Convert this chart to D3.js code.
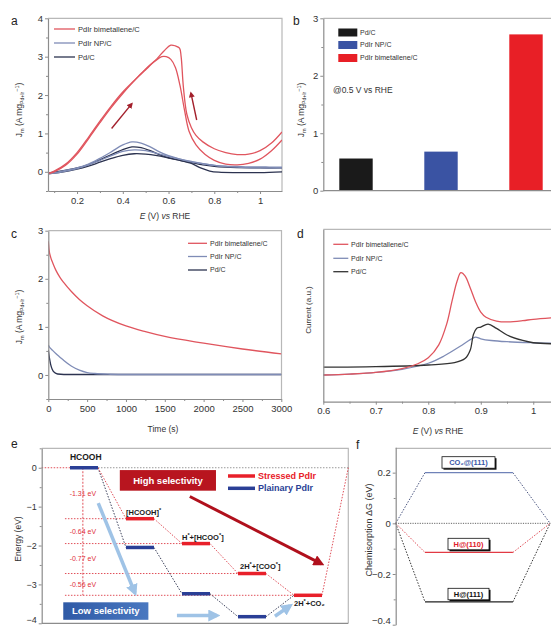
<!DOCTYPE html>
<html><head><meta charset="utf-8">
<script src="https://cdn.jsdelivr.net/npm/d3@7/dist/d3.min.js"></script>
<style>
body{margin:0;background:#fff;}
svg text{font-family:"Liberation Sans",Arial,Helvetica,sans-serif;}
</style></head><body>
<script>
// ================= DATA =================
const seriesNames = ["PdIr bimetallene/C","PdIr NP/C","Pd/C"];

// Panel a: cyclic voltammograms [E (V), Jm]
const aRedFwd = [[0.073,-0.05],[0.1,0.0],[0.15,0.17],[0.2,0.46],[0.25,0.86],[0.3,1.28],[0.35,1.68],[0.4,2.04],[0.45,2.37],[0.5,2.66],[0.54,2.88],[0.57,3.0],[0.59,3.0],[0.61,2.93],[0.63,2.72],[0.65,2.25],[0.67,1.6],[0.69,1.05],[0.72,0.7],[0.76,0.45],[0.8,0.3],[0.85,0.2],[0.9,0.18],[0.95,0.22],[1.0,0.33],[1.05,0.55],[1.096,0.83]];
const aRedBwd = [[1.096,1.04],[1.05,0.75],[1.0,0.55],[0.95,0.46],[0.9,0.45],[0.85,0.5],[0.8,0.6],[0.75,0.78],[0.72,0.95],[0.7,1.15],[0.68,1.5],[0.665,2.2],[0.655,3.0],[0.648,3.22],[0.63,3.28],[0.61,3.3],[0.58,3.15],[0.55,2.95],[0.5,2.68],[0.45,2.38],[0.4,2.08],[0.35,1.72],[0.3,1.32],[0.25,0.9],[0.2,0.5],[0.15,0.2],[0.1,0.02],[0.073,-0.05]];
const aNpFwd = [[0.073,-0.04],[0.12,0.0],[0.2,0.1],[0.25,0.2],[0.3,0.35],[0.35,0.52],[0.4,0.7],[0.44,0.78],[0.48,0.75],[0.52,0.65],[0.56,0.52],[0.6,0.42],[0.65,0.33],[0.7,0.26],[0.75,0.21],[0.8,0.17],[0.85,0.15],[0.9,0.14],[0.95,0.13],[1.0,0.13],[1.05,0.12],[1.096,0.12]];
const aNpBwd = [[1.096,0.1],[1.0,0.1],[0.9,0.12],[0.8,0.17],[0.7,0.27],[0.65,0.33],[0.6,0.4],[0.55,0.48],[0.5,0.55],[0.45,0.57],[0.4,0.53],[0.35,0.42],[0.3,0.3],[0.25,0.18],[0.2,0.08],[0.12,-0.02],[0.073,-0.05]];
const aPdFwd = [[0.073,-0.03],[0.12,0.01],[0.2,0.1],[0.25,0.19],[0.3,0.31],[0.35,0.45],[0.4,0.58],[0.44,0.65],[0.48,0.63],[0.52,0.55],[0.56,0.45],[0.6,0.37],[0.65,0.3],[0.7,0.24],[0.75,0.18],[0.8,0.14],[0.85,0.12],[0.9,0.11],[1.0,0.1],[1.096,0.1]];
const aPdBwd = [[1.096,0.0],[1.0,-0.02],[0.9,-0.02],[0.82,-0.01],[0.78,0.02],[0.74,0.1],[0.7,0.22],[0.65,0.3],[0.6,0.36],[0.55,0.42],[0.5,0.46],[0.45,0.47],[0.4,0.43],[0.35,0.35],[0.3,0.25],[0.25,0.15],[0.2,0.07],[0.12,-0.02],[0.073,-0.05]];
const aXTicks = [0.2,0.4,0.6,0.8,1];
const aXMinor = [0.1,0.3,0.5,0.7,0.9];
const aYTicks = [0,1,2,3,4];
const aYMinor = [-0.5,0.5,1.5,2.5,3.5];
const aArrows = [[[0.351,1.13],[0.439,1.77]],[[0.723,1.35],[0.698,2.05]]];

// Panel b: mass activity @0.5 V
const bCategories = ["Pd/C","PdIr NP/C","PdIr bimetallene/C"];
const bValues = [0.56,0.68,2.72];
const bYTicks = [0,1,2,3];
const bYMinor = [0.5,1.5,2.5];

// Panel c: chronoamperometry [t (s), Jm]
const cRed = [[0,2.78],[10,2.6],[30,2.45],[60,2.32],[100,2.17],[150,2.03],[200,1.92],[300,1.73],[400,1.57],[500,1.44],[700,1.23],[1000,1.02],[1250,0.9],[1500,0.8],[2000,0.66],[2500,0.54],[3000,0.44]];
const cNp  = [[0,0.62],[20,0.57],[50,0.52],[100,0.44],[150,0.37],[200,0.3],[300,0.18],[400,0.1],[500,0.05],[600,0.03],[800,0.015],[1000,0.01],[3000,0.01]];
const cPd  = [[0,0.52],[15,0.35],[30,0.22],[50,0.12],[80,0.05],[120,0.02],[200,0.01],[3000,0.01]];
const cXTicks = [0,500,1000,1500,2000,2500,3000];
const cXMinor = [250,750,1250,1750,2250,2750];
const cYTicks = [0,1,2,3];
const cYMinor = [-0.5,0.5,1.5,2.5];

// Panel d: CO stripping [E (V), current a.u.]
const dRed = [[0.6,15.5],[0.65,16],[0.7,17],[0.75,19.2],[0.78,22],[0.8,25.5],[0.82,33],[0.835,45],[0.845,58],[0.855,70],[0.862,74.8],[0.87,73],[0.88,66],[0.89,58],[0.9,52],[0.91,49],[0.93,46.8],[0.95,46.3],[0.98,47],[1.0,47.8],[1.05,49]];
const dNp  = [[0.6,15.5],[0.65,16],[0.7,17],[0.75,18.8],[0.8,22.3],[0.83,26.5],[0.86,32],[0.88,36],[0.89,37.5],[0.9,36.5],[0.92,35.5],[0.95,34.8],[1.0,34.2],[1.05,33.8]];
const dPd  = [[0.6,20],[0.7,20.3],[0.8,21.3],[0.85,22.6],[0.87,25],[0.88,30],[0.886,39],[0.892,42.5],[0.9,43.3],[0.914,45],[0.93,42.5],[0.95,38.7],[0.98,35.5],[1.0,34.2],[1.05,33.5]];
const dXTicks = [0.6,0.7,0.8,0.9,1];
const dXMinor = [0.65,0.75,0.85,0.95];

// Panel e: energy diagram
const eSteps = ["HCOOH","[HCOOH]*","H*+[HCOO*]","2H*+[COO*]","2H*+CO₂"];
const eStressed = [0,-1.31,-1.95,-2.72,-3.28];
const ePlainary = [0,-2.05,-3.24,-3.83,-3.28];
const eDeltaLabels = ["-1.31 eV","-0.64 eV","-0.77 eV","-0.56 eV"];
const eYTicks = [0,-1,-2,-3,-4];
const eYMinor = [0.5,-0.5,-1.5,-2.5,-3.5];
const eLegend = ["Stressed PdIr","Plainary PdIr"];

// Panel f: chemisorption free energies
const fLabels = ["CO₂@(111)","H@(110)","H@(111)"];
const fValues = [0.2,-0.115,-0.31];
const fYTicks = [0.2,0,-0.2,-0.4];
const fYMinor = [0.1,-0.1,-0.3];

// ================= STYLE =================
const cRedC = "#e0555e", cNpC = "#7f8cb6", cPdC = "#2c3350";
const AX = "#8c8c8c", FR = "#b8b8b8", TX = "#333";

const svg = d3.select("body").append("svg").attr("width",551).attr("height",627);
const defs = svg.append("defs");

function styleAx(g, fs){
  g.select(".domain").attr("stroke",AX).attr("stroke-width",1.2);
  g.selectAll(".tick line").attr("stroke",AX);
  g.selectAll(".tick text").attr("fill",TX).style("font-size",(fs||9.5)+"px");
}
function leftAxis(y,x0,major,minor,fmt,fs){
  const g = svg.append("g").attr("transform",`translate(${x0},0)`);
  if(minor){ const m = g.append("g").call(d3.axisLeft(y).tickValues(minor).tickSize(2).tickSizeOuter(0).tickFormat(""));
    m.select(".domain").remove(); m.selectAll("line").attr("stroke",AX); }
  const a = g.append("g").call(d3.axisLeft(y).tickValues(major).tickSize(3).tickSizeOuter(0).tickPadding(2).tickFormat(fmt));
  styleAx(a,fs); return a;
}
function bottomAxis(x,y0,major,minor,fmt,fs){
  const g = svg.append("g").attr("transform",`translate(0,${y0})`);
  if(minor){ const m = g.append("g").call(d3.axisBottom(x).tickValues(minor).tickSize(2).tickSizeOuter(0).tickFormat(""));
    m.select(".domain").remove(); m.selectAll("line").attr("stroke",AX); }
  const a = g.append("g").call(d3.axisBottom(x).tickValues(major).tickSize(3).tickSizeOuter(0).tickPadding(3).tickFormat(fmt));
  styleAx(a,fs); return a;
}
function frame(x0,x1,y0,y1){
  svg.append("path").attr("d",`M${x0},${y0}H${x1}V${y1}`).attr("fill","none").attr("stroke",FR).attr("stroke-width",1.2);
}
function clip(id,x0,x1,y0,y1){
  defs.append("clipPath").attr("id",id).append("rect").attr("x",x0).attr("y",y0).attr("width",x1-x0).attr("height",y1-y0);
}
function panelLabel(t,x,y){ svg.append("text").attr("x",x).attr("y",y).attr("fill","#222").style("font-size","12px").text(t); }
function jLabel(x,y){
  const t = svg.append("text").attr("transform",`translate(${x},${y}) rotate(-90)`).attr("text-anchor","middle").style("font-size","8.5px").attr("fill",TX);
  t.append("tspan").text("J");
  t.append("tspan").attr("dy",2).style("font-size","5.5px").text("m");
  t.append("tspan").attr("dy",-2).text(" (A mg");
  t.append("tspan").attr("dy",2).style("font-size","5px").text("Pd+Ir");
  t.append("tspan").attr("dy",-5).style("font-size","5.5px").text("−1");
  t.append("tspan").attr("dy",3).text(")");
}
function eLabel(cx,y){
  const t = svg.append("text").attr("x",cx).attr("y",y).attr("text-anchor","middle").style("font-size","8.5px").attr("fill",TX);
  t.append("tspan").style("font-style","italic").text("E");
  t.append("tspan").text(" (V) ");
  t.append("tspan").style("font-style","italic").text("vs");
  t.append("tspan").text(" RHE");
}
function marker(id,color,size){
  defs.append("marker").attr("id",id).attr("viewBox","0 0 10 10").attr("refX",7).attr("refY",5)
    .attr("markerWidth",size).attr("markerHeight",size).attr("orient","auto").attr("markerUnits","userSpaceOnUse")
    .append("path").attr("d","M0,0L10,5L0,10z").attr("fill",color);
}
marker("arA","#a3202c",6);
marker("arE","#b0101c",11);
marker("arB","#9fc3e6",12);

function legendLines(x0,x1,tx,rows,colors,names,fs){
  names.forEach((n,i)=>{
    svg.append("line").attr("x1",x0).attr("x2",x1).attr("y1",rows[i]).attr("y2",rows[i]).attr("stroke",colors[i]).attr("stroke-width",1.3);
    svg.append("text").attr("x",tx).attr("y",rows[i]).attr("dy","0.35em").style("font-size",fs+"px").attr("fill",TX).text(n);
  });
}

// ================= PANEL A =================
{
  const x = d3.scaleLinear().domain([0.073,1.096]).range([48,282]);
  const y = d3.scaleLinear().domain([-0.5,4]).range([191,18.3]);
  frame(48,282,18.3,191);
  clip("ca",48,282,18.3,191);
  const line = d3.line().x(d=>x(d[0])).y(d=>y(d[1])).curve(d3.curveCatmullRom.alpha(0.5));
  const g = svg.append("g").attr("clip-path","url(#ca)");
  [[aPdFwd,cPdC],[aPdBwd,cPdC],[aNpFwd,cNpC],[aNpBwd,cNpC],[aRedFwd,cRedC],[aRedBwd,cRedC]].forEach(([d,c])=>{
    g.append("path").attr("d",line(d)).attr("fill","none").attr("stroke",c).attr("stroke-width",1.3);
  });
  aArrows.forEach(a=>{
    svg.append("line").attr("x1",x(a[0][0])).attr("y1",y(a[0][1])).attr("x2",x(a[1][0])).attr("y2",y(a[1][1]))
      .attr("stroke","#a3202c").attr("stroke-width",1.4).attr("marker-end","url(#arA)");
  });
  leftAxis(y,48,aYTicks,aYMinor,d3.format("d"));
  bottomAxis(x,191,aXTicks,aXMinor,d=>d===1?"1":d3.format(".1f")(d));
  legendLines(54,75,78,[29,43,57],[cRedC,cNpC,cPdC],seriesNames,7.5);
  panelLabel("a",11,25);
  jLabel(22,110);
  eLabel(165,219);
}

// ================= PANEL B =================
{
  const x = d3.scaleBand().domain(bCategories).range([313.5,568.5]).paddingInner(0.607).paddingOuter(0.3035);
  const y = d3.scaleLinear().domain([0,3]).range([190.7,18.3]);
  const colors = ["#1a1a1a","#3a53a3","#e81f26"];
  svg.append("line").attr("x1",323.3).attr("x2",551).attr("y1",18.3).attr("y2",18.3).attr("stroke",FR).attr("stroke-width",1.2);
  svg.selectAll(".bbar").data(bValues).enter().append("rect")
    .attr("x",(d,i)=>x(bCategories[i])).attr("width",x.bandwidth())
    .attr("y",d=>y(d)).attr("height",d=>y(0)-y(d)).attr("fill",(d,i)=>colors[i]);
  svg.append("line").attr("x1",323.3).attr("x2",551).attr("y1",190.7).attr("y2",190.7).attr("stroke",AX).attr("stroke-width",1.2);
  leftAxis(y,323.3,bYTicks,bYMinor,d3.format("d"));
  const rows = [32.5,45,58];
  bCategories.forEach((n,i)=>{
    svg.append("rect").attr("x",338.3).attr("y",rows[i]-4).attr("width",19).attr("height",8).attr("fill",colors[i]);
    svg.append("text").attr("x",360).attr("y",rows[i]).attr("dy","0.35em").style("font-size","7px").attr("fill",TX).text(n);
  });
  svg.append("text").attr("x",333).attr("y",93).style("font-size","8.5px").attr("fill",TX).text("@0.5 V vs RHE");
  panelLabel("b",293,25);
  jLabel(304,110);
}

// ================= PANEL C =================
{
  const x = d3.scaleLinear().domain([0,3000]).range([48.3,281.3]);
  const y = d3.scaleLinear().domain([-0.5,3]).range([399,230.7]);
  frame(48.3,281.5,230.7,399);
  clip("cc",48.3,281.5,230.7,399);
  const line = d3.line().x(d=>x(d[0])).y(d=>y(d[1])).curve(d3.curveMonotoneX);
  const g = svg.append("g").attr("clip-path","url(#cc)");
  [[cPd,cPdC],[cNp,cNpC],[cRed,cRedC]].forEach(([d,c])=>{
    g.append("path").attr("d",line(d)).attr("fill","none").attr("stroke",c).attr("stroke-width",1.3);
  });
  leftAxis(y,48.3,cYTicks,cYMinor,d3.format("d"));
  bottomAxis(x,399,cXTicks,cXMinor,d3.format("d"));
  legendLines(188,207,210,[243.3,256.5,270],[cRedC,cNpC,cPdC],seriesNames,7);
  panelLabel("c",11,238);
  jLabel(22,317);
  svg.append("text").attr("x",163).attr("y",432).attr("text-anchor","middle").style("font-size","8.5px").attr("fill",TX).text("Time (s)");
}

// ================= PANEL D =================
{
  const x = d3.scaleLinear().domain([0.6,1.05]).range([323.3,559.5]);
  const y = d3.scaleLinear().domain([0,100]).range([401.7,229.3]);
  svg.append("line").attr("x1",323.3).attr("x2",551).attr("y1",229.3).attr("y2",229.3).attr("stroke",FR).attr("stroke-width",1.2);
  clip("cd",323.3,551,229.3,401.7);
  const line = d3.line().x(d=>x(d[0])).y(d=>y(d[1])).curve(d3.curveCatmullRom.alpha(0.5));
  const g = svg.append("g").attr("clip-path","url(#cd)");
  [[dNp,cNpC],[dPd,"#333"],[dRed,cRedC]].forEach(([d,c])=>{
    g.append("path").attr("d",line(d)).attr("fill","none").attr("stroke",c).attr("stroke-width",1.3);
  });
  leftAxis(y,323.3,[],null,"");
  bottomAxis(x,401.7,dXTicks,dXMinor,d=>d===1?"1":d3.format(".1f")(d));
  legendLines(333.3,348.3,351,[244.3,258.3,271.7],[cRedC,cNpC,"#333"],seriesNames,7);
  panelLabel("d",297,238);
  svg.append("text").attr("transform","translate(311,310) rotate(-90)").attr("text-anchor","middle").style("font-size","8px").attr("fill",TX).text("Current (a.u.)");
  eLabel(438,434);
}

// ================= PANEL E =================
{
  const x = d3.scaleLinear().domain([-0.755,4.72]).range([41.7,348.3]);
  const y = d3.scaleLinear().domain([-4,0.5]).range([623.3,448.3]);
  const red = "#e8202a", blue = "#2a3f96", redDot = "#e0505a", navyDot = "#3a3f5a";
  const hw = 0.25;
  frame(41.7,348.3,448.3,623.3);
  // zero reference line
  svg.append("line").attr("x1",x(-0.755)).attr("x2",x(-hw)).attr("y1",y(0)).attr("y2",y(0)).attr("stroke",redDot).attr("stroke-width",1).attr("stroke-dasharray","1.5,1.5");
  svg.append("line").attr("x1",x(hw)).attr("x2",x(4.72)).attr("y1",y(0)).attr("y2",y(0)).attr("stroke","#999").attr("stroke-width",1).attr("stroke-dasharray","1.5,1.5");
  // horizontal red reference lines at stressed levels
  eStressed.forEach((v,i)=>{ if(i===0) return;
    svg.append("line").attr("x1",x(-0.34)).attr("x2",x(i-hw)).attr("y1",y(v)).attr("y2",y(v)).attr("stroke",redDot).attr("stroke-width",1).attr("stroke-dasharray","1.5,1.5");
  });
  // vertical dotted energy scale
  svg.append("line").attr("x1",x(-0.02)).attr("x2",x(-0.02)).attr("y1",y(0)).attr("y2",y(eStressed[4])).attr("stroke",redDot).attr("stroke-width",1).attr("stroke-dasharray","2,1.5");
  // connectors
  for(let i=0;i<4;i++){
    svg.append("line").attr("x1",x(i+hw)).attr("y1",y(ePlainary[i])).attr("x2",x(i+1-hw)).attr("y2",y(ePlainary[i+1])).attr("stroke",navyDot).attr("stroke-width",1).attr("stroke-dasharray","1.5,1.5");
    svg.append("line").attr("x1",x(i+hw)).attr("y1",y(eStressed[i])).attr("x2",x(i+1-hw)).attr("y2",y(eStressed[i+1])).attr("stroke",redDot).attr("stroke-width",1).attr("stroke-dasharray","1.5,1.5");
  }
  svg.append("line").attr("x1",x(4+hw)).attr("y1",y(eStressed[4])).attr("x2",x(4.72)).attr("y2",y(0)).attr("stroke",redDot).attr("stroke-width",1).attr("stroke-dasharray","1.5,1.5");
  // level bars
  ePlainary.forEach((v,i)=>{ if(i===4) return;
    svg.append("line").attr("x1",x(i-hw)).attr("x2",x(i+hw)).attr("y1",y(v)).attr("y2",y(v)).attr("stroke",blue).attr("stroke-width",3.5);
  });
  eStressed.forEach((v,i)=>{ if(i===0) return;
    svg.append("line").attr("x1",x(i-hw)).attr("x2",x(i+hw)).attr("y1",y(v)).attr("y2",y(v)).attr("stroke",red).attr("stroke-width",3.5);
  });
  // delta labels
  eDeltaLabels.forEach((t,i)=>{
    svg.append("text").attr("x",x(-0.02)).attr("y",y((eStressed[i]+eStressed[i+1])/2)).attr("dy","0.35em").attr("text-anchor","middle")
      .style("font-size","7px").attr("fill","#e0303c").text(t);
  });
  // step labels with superscript *
  function rich(xx,yy,s,fs){
    const t = svg.append("text").attr("x",xx).attr("y",yy).style("font-size",fs+"px").style("font-weight","bold").attr("fill","#1a1a1a");
    let cur = 0;
    s.split(/(\*)/).filter(p=>p!=="").forEach(p=>{
      if(p==="*"){ t.append("tspan").attr("dy",-3-cur).style("font-size",(fs*0.75)+"px").text("*"); cur=-3; }
      else { t.append("tspan").attr("dy",-cur).text(p); cur=0; }
    });
  }
  const labY = [-8, -4, -4, -5, 11];
  eSteps.forEach((s,i)=>{
    const v = i===0 ? ePlainary[0] : eStressed[i];
    rich(x(i-hw)+ (i===3?2:0), y(v)+labY[i], s, i===0?8.5:7.5);
  });
  // arrows
  const arrows = [
    {p:[[1.89,-0.74],[4.24,-2.47]], c:"#b0101c", w:3, m:"arE"},
    {p:[[0.255,-0.91],[0.91,-3.22]], c:"#9fc3e6", w:3.5, m:"arB"},
    {p:[[1.66,-3.8],[2.37,-3.8]], c:"#9fc3e6", w:3.5, m:"arB"},
    {p:[[3.41,-3.82],[3.68,-3.55]], c:"#9fc3e6", w:3.5, m:"arB"}
  ];
  arrows.forEach(a=>{
    svg.append("line").attr("x1",x(a.p[0][0])).attr("y1",y(a.p[0][1])).attr("x2",x(a.p[1][0])).attr("y2",y(a.p[1][1]))
      .attr("stroke",a.c).attr("stroke-width",a.w).attr("marker-end",`url(#${a.m})`);
  });
  // selectivity boxes
  svg.append("rect").attr("x",x(0.64)).attr("y",y(-0.06)).attr("width",x(2.357)-x(0.64)).attr("height",y(-0.59)-y(-0.06)).attr("fill","#b8151f");
  svg.append("text").attr("x",x(1.5)).attr("y",(y(-0.06)+y(-0.59))/2).attr("dy","0.35em").attr("text-anchor","middle").style("font-size","9.5px").style("font-weight","bold").attr("fill","#fff").text("High selectivity");
  const lg = defs.append("linearGradient").attr("id","lowG").attr("x1",0).attr("x2",1);
  lg.append("stop").attr("offset","0").attr("stop-color","#2f5aa6");
  lg.append("stop").attr("offset","1").attr("stop-color","#4a78c0");
  svg.append("rect").attr("x",x(-0.37)).attr("y",y(-3.46)).attr("width",x(1.15)-x(-0.37)).attr("height",y(-3.91)-y(-3.46)).attr("fill","url(#lowG)");
  svg.append("text").attr("x",x(0.39)).attr("y",(y(-3.46)+y(-3.91))/2).attr("dy","0.35em").attr("text-anchor","middle").style("font-size","9.5px").style("font-weight","bold").attr("fill","#fff").text("Low selectivity");
  // legend
  [red,blue].forEach((c,i)=>{
    const yy = [476,488.3][i];
    svg.append("line").attr("x1",228).attr("x2",255).attr("y1",yy).attr("y2",yy).attr("stroke",c).attr("stroke-width",3.5);
    svg.append("text").attr("x",258).attr("y",yy).attr("dy","0.35em").style("font-size","9px").style("font-weight","bold").attr("fill",c).text(eLegend[i]);
  });
  const ea = leftAxis(y,41.7,eYTicks,eYMinor,d3.format("d"),9);
  ea.selectAll(".tick text").filter(d=>d===-4).attr("dy","-0.05em");
  svg.append("line").attr("x1",41.7).attr("x2",348.3).attr("y1",623.3).attr("y2",623.3).attr("stroke",AX).attr("stroke-width",1.2);
  panelLabel("e",11,448);
  svg.append("text").attr("transform","translate(21,539) rotate(-90)").attr("text-anchor","middle").style("font-size","8.5px").attr("fill",TX).text("Energy (eV)");
}

// ================= PANEL F =================
{
  const x = d3.scaleLinear().domain([0,5.3]).range([395.7,551]);
  const y = d3.scaleLinear().domain([-0.4,0.3]).range([624.7,447.3]);
  svg.append("line").attr("x1",395.7).attr("x2",551).attr("y1",448.3).attr("y2",448.3).attr("stroke",FR).attr("stroke-width",1.2);
  svg.append("line").attr("x1",x(0)).attr("x2",x(5.3)).attr("y1",y(0)).attr("y2",y(0)).attr("stroke","#666").attr("stroke-width",1).attr("stroke-dasharray","1.2,1.2");
  const solid = ["#6f82b8","#e23a44","#222"];
  const dots  = ["#4a5580","#e04a54","#333"];
  fValues.forEach((v,i)=>{
    svg.append("line").attr("x1",x(0)).attr("y1",y(0)).attr("x2",x(1)).attr("y2",y(v)).attr("stroke",dots[i]).attr("stroke-width",1).attr("stroke-dasharray","1.5,1.5");
    svg.append("line").attr("x1",x(4)).attr("y1",y(v)).attr("x2",x(5.27)).attr("y2",y(0)).attr("stroke",dots[i]).attr("stroke-width",1).attr("stroke-dasharray","1.5,1.5");
    svg.append("line").attr("x1",x(1)).attr("x2",x(4)).attr("y1",y(v)).attr("y2",y(v)).attr("stroke",solid[i]).attr("stroke-width",1.2);
  });
  const boxes = [{yy:456.7,c:"#3a58a8",w:53},{yy:538.3,c:"#e0202c",w:41},{yy:588.3,c:"#111",w:41}];
  fLabels.forEach((t,i)=>{
    const b = boxes[i], cx = 468.5, bx = cx-b.w/2;
    svg.append("rect").attr("x",bx+1.5).attr("y",b.yy+1.5).attr("width",b.w).attr("height",11.5).attr("fill","#111");
    svg.append("rect").attr("x",bx).attr("y",b.yy).attr("width",b.w).attr("height",11.5).attr("fill","#fff").attr("stroke","#111").attr("stroke-width",0.8);
    svg.append("text").attr("x",cx).attr("y",b.yy+5.9).attr("dy","0.35em").attr("text-anchor","middle").style("font-size","7.5px").style("font-weight","bold").attr("fill",b.c).text(t);
  });
  const fa = leftAxis(y,395.7,fYTicks,fYMinor,d=>d===0?"0":d3.format(".1f")(d));
  fa.selectAll(".tick text").filter(d=>d===-0.4).attr("dy","-0.15em");
  panelLabel("f",356,449);
  svg.append("text").attr("transform","translate(372,530) rotate(-90)").attr("text-anchor","middle").style("font-size","9px").attr("fill",TX).text("Chemisorption ΔG (eV)");
}
</script>
</body></html>
